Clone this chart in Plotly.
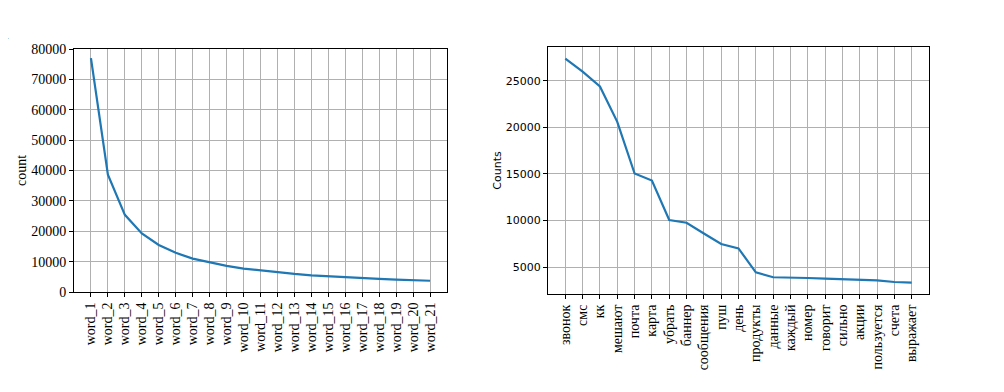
import plotly.graph_objects as go

left_words = [f"word_{i}" for i in range(1, 22)]
left_counts = [77000, 38600, 25400, 19300, 15500, 12900, 11000, 9700, 8600, 7700,
               7050, 6450, 5950, 5500, 5150, 4850, 4550, 4300, 4080, 3880, 3700]

right_words = ["звонок", "смс", "кк", "мешают", "почта", "карта", "убрать", "баннер",
               "сообщения", "пуш", "день", "продукты", "данные", "каждый", "номер",
               "говорит", "сильно", "акции", "пользуется", "счета", "выражает"]
right_counts = [27400, 26000, 24400, 20600, 15050, 14300, 10050, 9760, 8600, 7470,
                7000, 4430, 3900, 3890, 3820, 3760, 3720, 3610, 3570, 3390, 3320]

W, H = 1004, 392
OFF = 8  # page body margin
LINE = "#1f77b4"
GRID = "#b0b0b0"
SERIF = "Liberation Serif, Times New Roman, serif"
SANS = "DejaVu Sans, sans-serif"


def dx(a, b):
    return [(a - OFF) / W, (b - OFF) / W]


def dy(top, bottom):
    return [1 - (bottom - OFF) / H, 1 - (top - OFF) / H]


fig = go.Figure()
fig.add_trace(go.Scatter(x=list(range(len(left_words))), y=left_counts, mode="lines",
                         line=dict(color=LINE, width=2.2), xaxis="x", yaxis="y",
                         showlegend=False))
fig.add_trace(go.Scatter(x=list(range(len(right_words))), y=right_counts, mode="lines",
                         line=dict(color=LINE, width=2.2), xaxis="x2", yaxis="y2",
                         showlegend=False))

common = dict(showline=True, linecolor="black", linewidth=1, mirror=True,
              showgrid=True, gridcolor=GRID, gridwidth=1, zeroline=False,
              ticks="outside", ticklen=4, tickcolor="black", automargin=False)

fig.update_layout(
    template="none",
    width=W, height=H, margin=dict(l=0, r=0, t=0, b=0, pad=0),
    paper_bgcolor="white", plot_bgcolor="white",
    xaxis=dict(domain=dx(74, 447), anchor="y", range=[-1, 21],
               tickmode="array", tickvals=list(range(21)), ticktext=left_words,
               tickangle=-90, tickfont=dict(family=SERIF, size=14, color="black"),
               **common),
    yaxis=dict(domain=dy(49, 292), anchor="x", range=[0, 80000],
               dtick=10000, tickformat="d",
               tickfont=dict(family=SERIF, size=14, color="black"),
               title=dict(text="count", font=dict(family=SERIF, size=14, color="black"),
                          standoff=1),
               **common),
    xaxis2=dict(domain=dx(548, 929), anchor="y2", range=[-1, 21],
                tickmode="array", tickvals=list(range(21)), ticktext=right_words,
                tickangle=-90, tickfont=dict(family=SERIF, size=14, color="black"),
                **common),
    yaxis2=dict(domain=dy(47, 294), anchor="x2", range=[2100, 28650],
                tickvals=[5000, 10000, 15000, 20000, 25000], tickformat="d",
                tickfont=dict(family=SANS, size=11, color="black"),
                title=dict(text="Counts", font=dict(family=SANS, size=11, color="black"),
                           standoff=1),
                **common),
    annotations=[dict(text=".", x=(5 - OFF) / W, y=1 - (28 - OFF) / H,
                      xref="paper", yref="paper", xanchor="left",
                      showarrow=False, font=dict(size=8, color="#888"))],
)

fig.write_html("out.html")
